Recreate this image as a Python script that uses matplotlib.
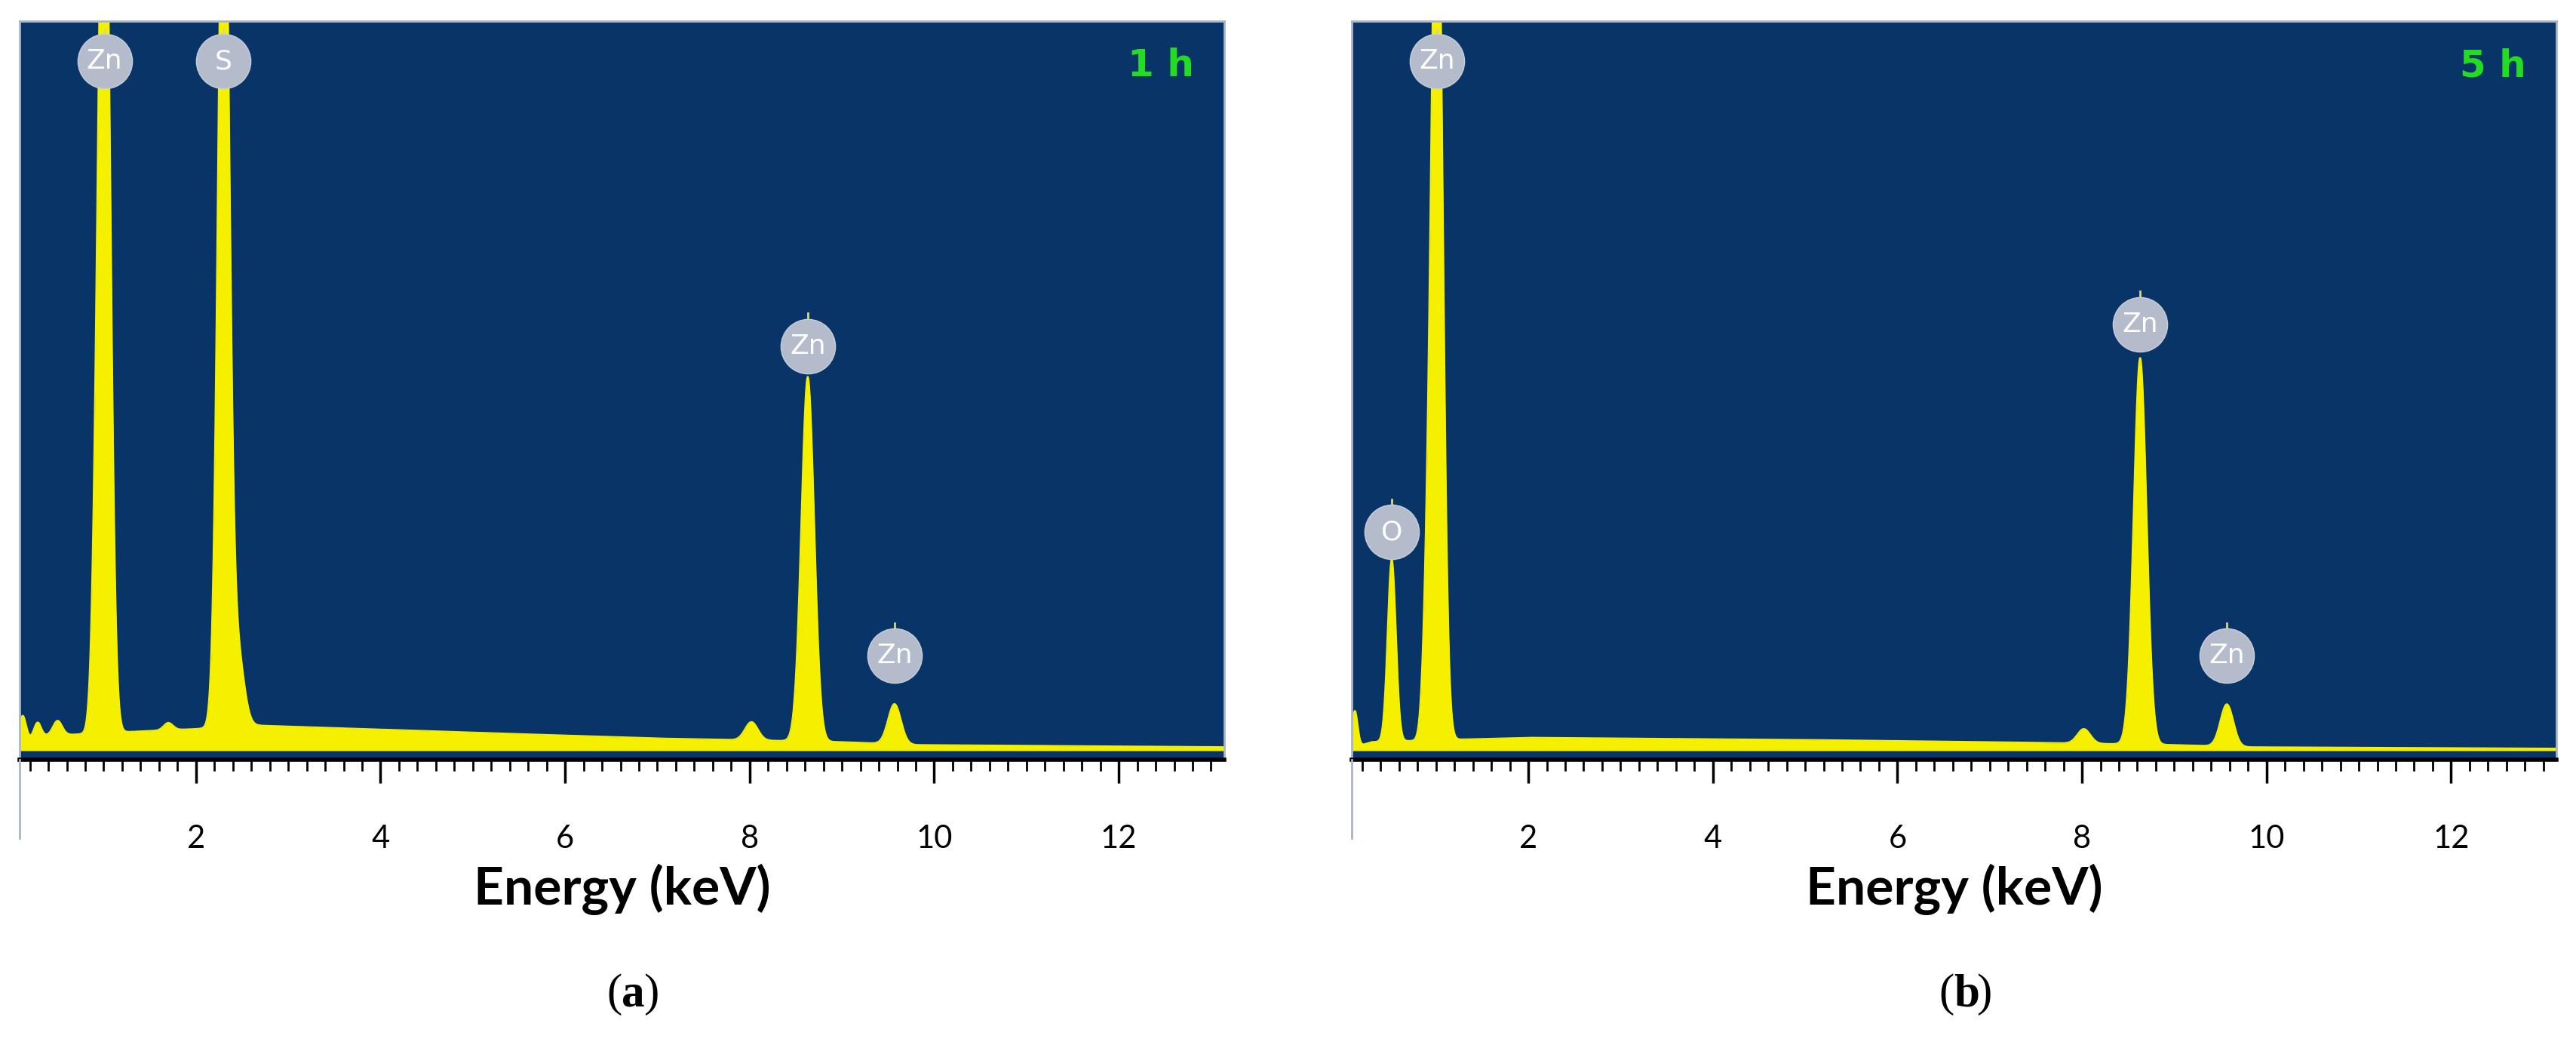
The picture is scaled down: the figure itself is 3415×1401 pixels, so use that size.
import numpy as np
import matplotlib
matplotlib.use("Agg")
import matplotlib.pyplot as plt
from matplotlib.lines import Line2D

# ---- data (heights as fraction of panel height) ----
a_peak_e = [0.12, 0.28, 0.50, 0.93, 1.01, 1.70, 2.30, 2.45, 8.02, 8.63, 9.57]
a_peak_h = [0.04, 0.02, 0.02, 0.20, 1.30, 0.01, 1.30, 0.10, 0.025, 0.50, 0.055]
a_peak_w = [0.04, 0.04, 0.05, 0.05, 0.06, 0.05, 0.06, 0.07, 0.07, 0.07, 0.07]
a_bg_e = [0.0, 0.3, 1.1, 2.0, 2.6, 5.0, 7.0, 9.0, 9.8, 13.2]
a_bg_h = [0.0, 0.02, 0.025, 0.03, 0.035, 0.025, 0.017, 0.012, 0.008, 0.005]

b_peak_e = [0.12, 0.52, 0.90, 1.01, 8.02, 8.63, 9.57]
b_peak_h = [0.05, 0.25, 0.13, 1.30, 0.02, 0.53, 0.058]
b_peak_w = [0.03, 0.045, 0.045, 0.06, 0.07, 0.07, 0.07]
b_bg_e = [0.0, 0.3, 1.1, 2.0, 5.0, 7.0, 9.0, 9.8, 13.2]
b_bg_h = [0.0, 0.012, 0.015, 0.018, 0.015, 0.012, 0.008, 0.005, 0.003]

a_lbl_e = [1.01, 2.30, 8.63, 9.57]
a_lbl_t = ["Zn", "S", "Zn", "Zn"]
a_lbl_y = [0.945, 0.945, 0.555, 0.13]
b_lbl_e = [0.52, 1.01, 8.63, 9.57]
b_lbl_t = ["O", "Zn", "Zn", "Zn"]
b_lbl_y = [0.30, 0.945, 0.585, 0.13]

tick_vals = [2, 4, 6, 8, 10, 12]
times = ["1 h", "5 h"]
panel_tags = ["a", "b"]

BLUE = "#083468"
YEL = "#f4f000"

fig = plt.figure(figsize=(34.15, 14.01), dpi=100)
lefts = [12/1568, 823/1568]
w = 733/1568
bottom = 1-462/643
h = (462-13)/643

def spectrum(pe, ph, pw, be, bh):
    x = np.linspace(0, 13.3, 4000)
    y = np.interp(x, be, bh)
    for e, hh, ww in zip(pe, ph, pw):
        y = y + hh*np.exp(-0.5*((x-e)/ww)**2)
    return x, y

panels = [(a_peak_e, a_peak_h, a_peak_w, a_bg_e, a_bg_h, a_lbl_e, a_lbl_t, a_lbl_y),
          (b_peak_e, b_peak_h, b_peak_w, b_bg_e, b_bg_h, b_lbl_e, b_lbl_t, b_lbl_y)]

for i, (pe, ph, pw, be, bh, le, lt, ly) in enumerate(panels):
    ax = fig.add_axes([lefts[i], bottom, w, h])
    ax.set_facecolor(BLUE)
    x, y = spectrum(pe, ph, pw, be, bh)
    ax.fill_between(x, 0, y, color=YEL, lw=0)
    ax.plot(x, y, color=YEL, lw=1.5)
    ax.set_xlim(0.09, 13.14)
    ax.set_ylim(-0.012, 1.0)
    for e, t, yy in zip(le, lt, ly):
        ax.plot([e, e], [yy, min(1.0, yy + 0.045)], color="#d8dc70", lw=2, zorder=4)
        ax.plot([e], [yy], marker="o", ms=52, color="#b4bccb", mec="#c8ced8", zorder=5)
        ax.text(e, yy, t, color="white", ha="center", va="center", fontsize=26,
                family="DejaVu Sans", zorder=6)
    ax.text(0.975, 0.94, times[i], transform=ax.transAxes, color="#22dd22",
            fontsize=36, fontweight="bold", ha="right", va="center", family="DejaVu Sans")
    ax.set_yticks([])
    ax.set_xticks(tick_vals)
    ax.set_xticks(np.arange(0.2, 13.1, 0.2), minor=True)
    ax.tick_params(axis="x", which="major", length=22, width=2.5, labelsize=30, pad=40,
                   direction="out", color="black")
    ax.tick_params(axis="x", which="minor", length=11, width=2, direction="out", color="black")
    for lab in ax.get_xticklabels():
        lab.set_family("Lato")
    for s in ["top", "right", "left"]:
        ax.spines[s].set_color("#aab6c8")
        ax.spines[s].set_linewidth(2)
    ax.spines["bottom"].set_color("black")
    ax.spines["bottom"].set_linewidth(4)
    ax.set_xlabel("Energy (keV)", fontsize=50, fontweight="bold", family="Lato", labelpad=10)
    fig.add_artist(Line2D([lefts[i], lefts[i]], [1-510/643, bottom], color="#aab6c8", lw=2))
    cx = lefts[i] + w/2
    fig.text(cx, 1-605/643, "(", fontsize=44, family="Liberation Serif", ha="right", va="center")
    fig.text(cx, 1-605/643, panel_tags[i], fontsize=44, family="Liberation Serif",
             fontweight="bold", ha="left", va="center")
    fig.text(cx + 0.0085, 1-605/643, ")", fontsize=44, family="Liberation Serif", ha="left", va="center")

fig.savefig("out.png", dpi=100)
